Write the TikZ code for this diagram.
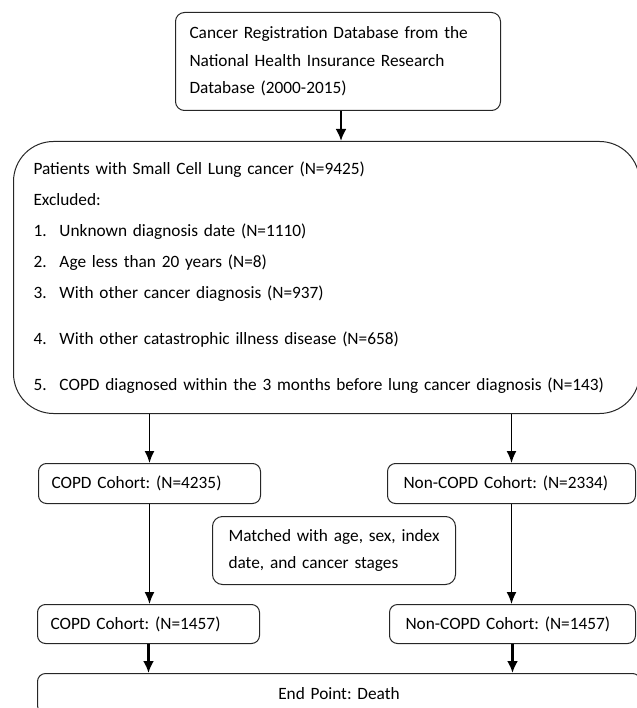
\documentclass[tikz,border=0pt]{standalone}
\usepackage{fontspec}
\setmainfont{Carlito}
\usetikzlibrary{positioning}
\usetikzlibrary{arrows.meta}
\tikzset{edge/.style = {->,> = {Latex[length=12pt,width=10pt]}, line width=1.6pt}}
\tikzset{bold edge/.style = {->,> = {Latex[length=12pt,width=11pt]}, line width=2.8pt}}

\begin{document}
\frenchspacing
\begin{tikzpicture}[x=1pt,y=-1pt,box/.style={draw=black!85,line width=1pt,rounded corners=9pt,anchor=north west,align=left,inner xsep=14pt,font=\fontsize{17.3}{27.5}\selectfont}]
                \useasboundingbox (0,0) rectangle (636,708);
                \node[box,minimum width=325pt,minimum height=98pt,text width=297pt] (db) at (175,12) {Cancer Registration Database from the\\National Health Insurance Research\\Database (2000-2015)};
                \node[box,rounded corners=40pt,inner xsep=20pt,minimum width=626pt,minimum height=272pt,text width=586pt,font=\fontsize{17.3}{31}\selectfont] (pat) at (13,141) {Patients with Small Cell Lung cancer (N=9425)\\
                    Excluded:\\
                    \makebox[26pt][l]{1.}Unknown diagnosis date (N=1110)\\
                    \makebox[26pt][l]{2.}Age less than 20 years (N=8)\\
                    \makebox[26pt][l]{3.}With other cancer diagnosis (N=937)\\[15pt]
                    \makebox[26pt][l]{4.}With other catastrophic illness disease (N=658)\\[15pt]
                    \makebox[26pt][l]{5.}COPD diagnosed within the 3 months before lung cancer diagnosis (N=143)\\[2pt]};
                \node[box,rounded corners=8pt,inner xsep=13pt,minimum width=222pt,minimum height=40pt,text width=196pt] (copdA) at (38,463) {COPD Cohort: (N=4235)};
                \node[box,rounded corners=8pt,inner xsep=16pt,minimum width=248pt,minimum height=40pt,text width=216pt] (noncopdA) at (387,463) {Non-COPD Cohort: (N=2334)};
                \node[box,rounded corners=10pt,inner xsep=16pt,minimum width=243pt,minimum height=68pt,text width=211pt] (match) at (212,516) {\mbox{Matched with age, sex, index}\\\mbox{date, and cancer stages}};
                \node[box,rounded corners=8pt,inner xsep=13pt,minimum width=222pt,minimum height=39pt,text width=196pt] (copdB) at (37,604) {COPD Cohort: (N=1457)};
                \node[box,rounded corners=8pt,inner xsep=16pt,minimum width=246pt,minimum height=39pt,text width=214pt] (noncopdB) at (389,604) {Non-COPD Cohort: (N=1457)};
                \node[box,rounded corners=8pt,align=center,minimum width=603pt,minimum height=40pt,text width=575pt] (end) at (37,673) {End Point: Death};

                \path[bold edge] ([xshift=3pt]db.south) edge ([xshift=3pt]db.south |- pat.north);
                \path[edge]
                    (pat.south -| copdA.north) edge (copdA.north)
                    (pat.south -| noncopdA.north) edge (noncopdA.north)
                    (copdA.south) edge (copdA.south |- copdB.north)
                    (noncopdA.south) edge (noncopdA.south |- noncopdB.north)
                    ;
                \path[bold edge]
                    (copdB.south) edge (copdB.south |- end.north)
                    (noncopdB.south) edge (noncopdB.south |- end.north)
                    ;
            \end{tikzpicture}
\end{document}
